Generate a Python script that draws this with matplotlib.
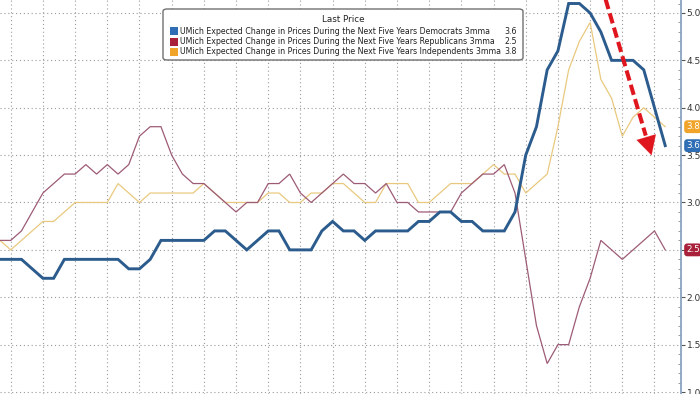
import matplotlib
matplotlib.use('Agg')
import matplotlib.pyplot as plt
import numpy as np
from matplotlib.patches import FancyBboxPatch, Rectangle
from matplotlib.ticker import MultipleLocator, FixedLocator
import matplotlib.transforms as mtrans

# ---------------- data (monthly, 3-month moving averages) ----------------
democrats = [2.4, 2.4, 2.4, 2.3, 2.2, 2.2, 2.4, 2.4, 2.4, 2.4, 2.4, 2.4, 2.3, 2.3, 2.4,
             2.6, 2.6, 2.6, 2.6, 2.6, 2.7, 2.7, 2.6, 2.5, 2.6, 2.7, 2.7, 2.5, 2.5, 2.5,
             2.7, 2.8, 2.7, 2.7, 2.6, 2.7, 2.7, 2.7, 2.7, 2.8, 2.8, 2.9, 2.9, 2.8, 2.8,
             2.7, 2.7, 2.7, 2.9, 3.5, 3.8, 4.4, 4.6, 5.1, 5.1, 5.0, 4.8, 4.5, 4.5, 4.5,
             4.4, 4.0, 3.6]
republicans = [2.6, 2.6, 2.7, 2.9, 3.1, 3.2, 3.3, 3.3, 3.4, 3.3, 3.4, 3.3, 3.4, 3.7, 3.8,
               3.8, 3.5, 3.3, 3.2, 3.2, 3.1, 3.0, 2.9, 3.0, 3.0, 3.2, 3.2, 3.3, 3.1, 3.0,
               3.1, 3.2, 3.3, 3.2, 3.2, 3.1, 3.2, 3.0, 3.0, 2.9, 2.9, 2.9, 2.9, 3.1, 3.2,
               3.3, 3.3, 3.4, 3.1, 2.4, 1.7, 1.3, 1.5, 1.5, 1.9, 2.2, 2.6, 2.5, 2.4, 2.5,
               2.6, 2.7, 2.5]
independents = [2.6, 2.5, 2.6, 2.7, 2.8, 2.8, 2.9, 3.0, 3.0, 3.0, 3.0, 3.2, 3.1, 3.0, 3.1,
                3.1, 3.1, 3.1, 3.1, 3.2, 3.1, 3.0, 3.0, 3.0, 3.0, 3.1, 3.1, 3.0, 3.0, 3.1,
                3.1, 3.2, 3.2, 3.1, 3.0, 3.0, 3.2, 3.2, 3.2, 3.0, 3.0, 3.1, 3.2, 3.2, 3.2,
                3.3, 3.4, 3.3, 3.3, 3.1, 3.2, 3.3, 3.8, 4.4, 4.7, 4.9, 4.3, 4.1, 3.7, 3.9,
                4.0, 3.9, 3.8]
series_labels = [
    "UMich Expected Change in Prices During the Next Five Years Democrats 3mma",
    "UMich Expected Change in Prices During the Next Five Years Republicans 3mma",
    "UMich Expected Change in Prices During the Next Five Years Independents 3mma",
]
legend_title = "Last Price"
y_ticks = [1.0, 1.5, 2.0, 2.5, 3.0, 3.5, 4.0, 4.5, 5.0]

# ---------------- styling ----------------
line_colors = ['#2b5c8d', '#9d5b76', '#e9c97f']
tag_colors = ['#2f6eb5', '#a8203a', '#f0a52a']
line_widths = [2.1, 0.9, 0.9]
W, H = 700, 394

fig = plt.figure(figsize=(W / 100, H / 100), dpi=100)
ax = fig.add_axes([0, 0, 681 / W, 1])
x = np.arange(len(democrats))

series = [democrats, republicans, independents]
zorders = [5, 4, 3]
for s, c, lw, z in zip(series, line_colors, line_widths, zorders):
    ax.plot(x, s, color=c, lw=lw, zorder=z, solid_joinstyle='miter')

ax.set_xlim(0, 63.47)
ax.set_ylim(0.979, 5.137)

# grid
ax.xaxis.set_major_locator(FixedLocator(np.arange(1, 64, 3)))
ax.set_xticklabels([])
ax.tick_params(axis='x', length=0)
ax.set_yticks(y_ticks)
ax.yaxis.set_minor_locator(MultipleLocator(0.1))
ax.grid(True, which='major', color='#9a9a9a', lw=0.8, ls=(0, (1, 2.5)))

# spines / y axis on right
for side in ['left', 'top', 'bottom']:
    ax.spines[side].set_visible(False)
ax.spines['right'].set_color('#8aa4c0')
ax.spines['right'].set_linewidth(1.3)
ax.yaxis.tick_right()
last_vals = [s[-1] for s in series]
ax.set_yticklabels(["" if any(abs(v - lv) < 0.05 for lv in last_vals) else f"{v:.1f}"
                    for v in y_ticks])
ax.tick_params(axis='y', which='major', direction='out', length=3, width=0.8,
               color='#555555', labelsize=6.5, labelcolor='#333333', pad=1)
ax.tick_params(axis='y', which='minor', direction='in', length=2, width=0.6,
               color='#888888')

# last-value tags on the right axis
blend = mtrans.blended_transform_factory(ax.transAxes, ax.transData)
for s, c in zip(series, tag_colors):
    ax.text(1.0075, s[-1], f"{s[-1]:.1f}", transform=blend, ha='left', va='center',
            fontsize=6.3, color='white', zorder=10, clip_on=False,
            bbox=dict(boxstyle='round,pad=0.22,rounding_size=0.35', fc=c, ec='none'))

# red dashed downward arrow (annotation)
x0, y0 = 56.4, 5.16
x1, y1 = 60.8, 3.47
fr = 0.86
ax.plot([x0, x0 + (x1 - x0) * fr], [y0, y0 + (y1 - y0) * fr], color='#e0161e',
        lw=2.9, ls=(0, (2.6, 1.1)), zorder=8, solid_capstyle='butt', clip_on=False)
ax.annotate('', xy=(x1, y1), xytext=(x0 + (x1 - x0) * 0.82, y0 + (y1 - y0) * 0.82),
            arrowprops=dict(arrowstyle='-|>,head_length=0.75,head_width=0.4',
                            color='#e0161e', lw=0.1, mutation_scale=18), zorder=9)

# legend box (figure pixel coordinates, from top)
def fx(px):
    return px / W

def fy(py):
    return 1 - py / H

box = FancyBboxPatch((fx(163), fy(60)), fx(523) - fx(163), fy(9) - fy(60),
                     boxstyle='round,pad=0,rounding_size=0.006', transform=fig.transFigure,
                     fc='white', ec='#707070', lw=1.0, zorder=20)
fig.patches.append(box)
fig.text(fx(343), fy(20), legend_title, ha='center', va='center', fontsize=6.3,
         color='#222222', zorder=21)
row_y = [31, 41.5, 51.5]
for lab, s, c, ry in zip(series_labels, series, tag_colors, row_y):
    sq = Rectangle((fx(169.5), fy(ry + 4)), fx(8), fy(0) - fy(8), transform=fig.transFigure,
                   fc=c, ec='none', zorder=21)
    fig.patches.append(sq)
    fig.text(fx(180), fy(ry), lab, ha='left', va='center', fontsize=5.7,
             color='#222222', zorder=21)
    fig.text(fx(517), fy(ry), f"{s[-1]:.1f}", ha='right', va='center', fontsize=5.7,
             color='#222222', zorder=21)

fig.savefig('out.png', dpi=100)
